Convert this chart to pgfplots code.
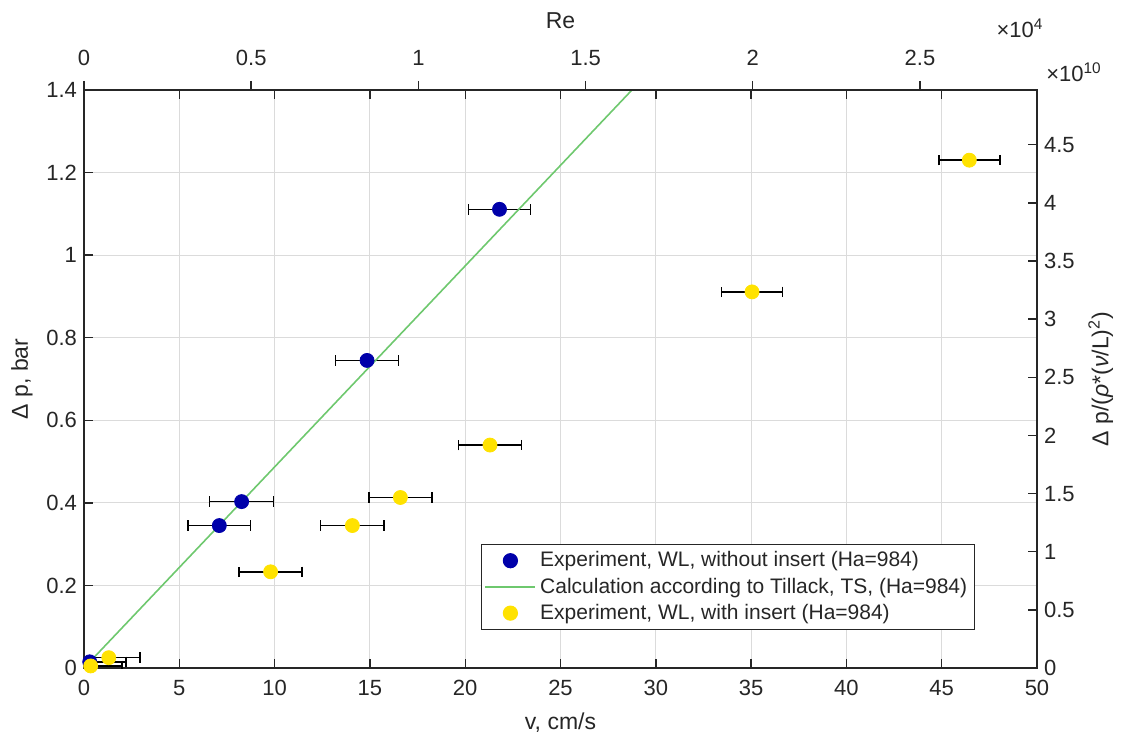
\documentclass[border=0pt]{standalone}
\usepackage{fontspec}
\setmainfont{Liberation Sans}
\usepackage{pgfplots}
\usepackage{pgfplotstable}
\pgfplotsset{compat=1.18}

\definecolor{mblue}{RGB}{0,0,170}
\definecolor{myellow}{RGB}{255,226,0}
\definecolor{mgreen}{RGB}{110,200,110}
\definecolor{axgray}{RGB}{38,38,38}

% without insert
\pgfplotstableread{
x     y     ex
21.80 1.111 1.63
14.85 0.745 1.65
8.27  0.403 1.68
7.10  0.345 1.63
0.30  0.015 1.90
}\woinsert

% with insert
\pgfplotstableread{
x     y     ex
46.45 1.230 1.60
35.05 0.911 1.60
21.30 0.540 1.65
16.60 0.413 1.65
14.08 0.345 1.67
9.79  0.233 1.66
1.30  0.025 1.65
0.35  0.005 1.65
}\winsert

\pgfplotsset{
  base/.style={
    scale only axis, width=476.5pt, height=289pt,
    axis line style={axgray, line width=0.7pt},
    tick style={axgray, line width=0.7pt},
    major tick length=4.5pt,
    ticklabel style={font=\fontsize{11}{12}\selectfont, text=axgray},
    label style={font=\fontsize{11.5}{13}\selectfont, text=axgray},
    /pgf/number format/assume math mode=true,
  },
  ebars/.style={
    error bars/.cd, x dir=both, x explicit, error mark=|,
    error bar style={black, line width=0.8pt},
    error mark options={black, line width=0.8pt, mark size=2.6pt},
  },
}

\begin{document}
\begin{tikzpicture}
\begin{axis}[base,
  xmin=0, xmax=50, ymin=0, ymax=1.4,
  xtick={0,5,10,15,20,25,30,35,40,45,50},
  ytick={0,0.2,0.4,0.6,0.8,1,1.2,1.4},
  xtick pos=both, ytick pos=left, tick align=inside,
  xticklabel style={yshift=-2.5pt},
  xlabel style={yshift=-1.5pt},
  grid=major, grid style={black!14, line width=0.5pt},
  xlabel={v, cm/s}, ylabel={Δ p, bar},
  legend style={at={(0.4166,0.066)}, anchor=south west, draw=axgray, line width=0.6pt,
    font=\fontsize{10.5}{12}\selectfont, text=axgray, inner sep=1.5pt, row sep=0pt},
  legend cell align=left,
]
\addlegendimage{legend image code/.code={\fill[mblue] (12.5pt,0pt) circle (3.5pt);}}
\addlegendentry{Experiment, WL, without insert (Ha=984)}
\addlegendimage{legend image code/.code={\draw[mgreen, line width=0.8pt] (0pt,0pt) -- (25pt,0pt);}}
\addlegendentry{Calculation according to Tillack, TS, (Ha=984)}
\addlegendimage{legend image code/.code={\fill[myellow] (12.5pt,0pt) circle (3.5pt);}}
\addlegendentry{Experiment, WL, with insert (Ha=984)}

\addplot[forget plot, only marks, mark=*, mark size=3.5pt, mark options={draw=mblue, fill=mblue}, ebars]
  table[x=x, y=y, x error=ex] {\woinsert};
\addplot[forget plot, mgreen, line width=0.8pt, no marks] coordinates {(0,0) (30,1.461)};
\addplot[forget plot, only marks, mark=*, mark size=3.5pt, mark options={draw=myellow, fill=myellow}, ebars]
  table[x=x, y=y, x error=ex] {\winsert};
\end{axis}

% Re axis on top
\begin{axis}[base,
  axis x line*=top, hide y axis,
  xmin=0, xmax=2.85, ymin=0, ymax=1,
  xtick={0,0.5,1,1.5,2,2.5}, tick align=outside,
  xticklabel style={yshift=4pt},
  xlabel style={yshift=4pt},
  xlabel={Re},
]
\end{axis}

% right axis
\begin{axis}[base,
  axis y line*=right, hide x axis,
  xmin=0, xmax=1, ymin=0, ymax=4.97,
  ytick={0,0.5,1,1.5,2,2.5,3,3.5,4,4.5}, tick align=inside,
  ylabel={Δ p/(\textit{ρ}*(\textit{ν}/L)\textsuperscript{2})},
]
\end{axis}

\node[text=axgray, font=\fontsize{11}{12}\selectfont] at (468pt,320pt) {×10\textsuperscript{4}};
\node[text=axgray, font=\fontsize{11}{12}\selectfont] at (495pt,298pt) {×10\textsuperscript{10}};

\pgfresetboundingbox
\path (-42pt,-38pt) rectangle (522.5pt,334pt);
\end{tikzpicture}
\end{document}
